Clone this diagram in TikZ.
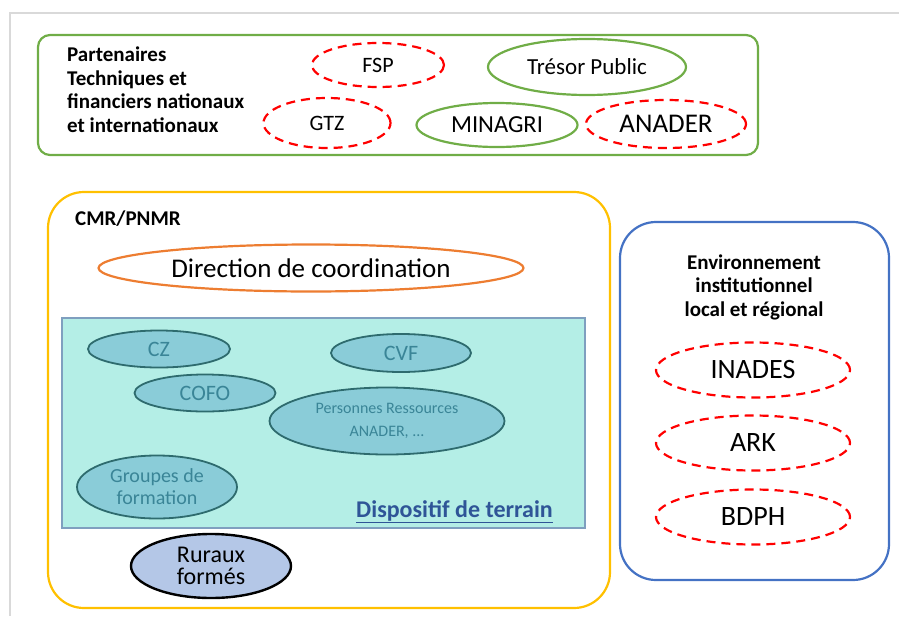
\documentclass[tikz,border=0pt]{standalone}
\usepackage{fontspec}
\setmainfont{Carlito}
\usetikzlibrary{positioning}
\usetikzlibrary{shapes.geometric}

\definecolor{partgreen}{HTML}{70AD47}
\definecolor{cmryellow}{HTML}{FFC000}
\definecolor{envblue}{HTML}{4472C4}
\definecolor{dirorange}{HTML}{ED7D31}
\definecolor{terrfill}{HTML}{B4EEE6}
\definecolor{terrdraw}{HTML}{7F9FBF}
\definecolor{tealfill}{HTML}{8ACCD8}
\definecolor{tealdraw}{HTML}{2E6B6E}
\definecolor{tealtext}{HTML}{3A8597}
\definecolor{ruraux}{HTML}{B4C7E7}
\definecolor{dispblue}{HTML}{2F5597}

\begin{document}
\begin{tikzpicture}[
    x=1pt, y=-1pt,
    frame/.style={draw, line width=2.2pt, rounded corners=#1},
    extern/.style={ellipse, draw=red, dash pattern=on 9pt off 6pt, line width=2.2pt, inner sep=0pt},
    partner/.style={ellipse, draw=partgreen, line width=2.2pt, inner sep=0pt},
    terrain/.style={ellipse, draw=tealdraw, fill=tealfill, line width=1.8pt, inner sep=0pt, text=tealtext},
    title/.style={font=\bfseries\fontsize{21}{23.5}\selectfont, align=left}
]
    \useasboundingbox (0,0) rectangle (899,616);
    \draw[gray!30, line width=1.2pt] (899,13) -- (10,13) -- (10,616);

    % Partenaires
    \draw[frame=12pt, partgreen] (38,35) rectangle (758,155);
    \node[title, anchor=north west, align=left, inner sep=0pt] (PT) at (67,47)
        {Partenaires\\Techniques et\\financiers nationaux\\et internationaux};
    \node[extern, minimum width=132pt, minimum height=44pt, font=\fontsize{22}{24}\selectfont] (FSP) at (378,65) {FSP};
    \node[partner, minimum width=198pt, minimum height=56pt, font=\fontsize{23}{25}\selectfont] (TP) at (587,67) {Trésor Public};
    \node[extern, minimum width=127pt, minimum height=50pt, font=\fontsize{22}{24}\selectfont] (GTZ) at (327,123) {GTZ};
    \node[partner, minimum width=161pt, minimum height=44pt, font=\fontsize{24.5}{26}\selectfont] (MIN) at (497,125) {MINAGRI};
    \node[extern, minimum width=160pt, minimum height=48pt, font=\fontsize{27}{29}\selectfont] (ANA) at (666,124) {ANADER};

    % CMR/PNMR
    \draw[frame=36pt, cmryellow] (48,192) rectangle (610,608);
    \node[title, anchor=west, inner sep=0pt] (CMR) at (75,219) {CMR/PNMR};
    \node[ellipse, draw=dirorange, line width=2.2pt, minimum width=425pt, minimum height=47pt, inner sep=0pt,
          font=\fontsize{27}{29}\selectfont] (DIR) at (311,268) {Direction de coordination};

    % Dispositif de terrain
    \draw[draw=terrdraw, fill=terrfill, line width=1.4pt] (62,318) rectangle (585,528);
    \node[terrain, minimum width=142pt, minimum height=37pt, font=\fontsize{22}{24}\selectfont] (CZ) at (159,349) {CZ};
    \node[terrain, minimum width=140pt, minimum height=38pt, font=\fontsize{22}{24}\selectfont] (CVF) at (401,353) {CVF};
    \node[terrain, minimum width=141pt, minimum height=37pt, font=\fontsize{22}{24}\selectfont] (COFO) at (205,393) {COFO};
    \node[terrain, minimum width=235pt, minimum height=67pt, align=center,
          font=\fontsize{16}{23}\selectfont] (PR) at (387,421) {Personnes Ressources\\ANADER, ...};
    \node[terrain, minimum width=160pt, minimum height=63pt, align=center,
          font=\fontsize{20}{22}\selectfont] (GF) at (157,487) {Groupes de\\formation};
    \node[anchor=base east, inner sep=0pt, text=dispblue, font=\bfseries\fontsize{24}{26}\selectfont] (DT) at (553,517)
        {\underline{Dispositif de terrain}};

    \node[ellipse, draw=black, fill=ruraux, line width=2.4pt, minimum width=160pt, minimum height=64pt,
          inner sep=0pt, align=center, font=\fontsize{24}{22}\selectfont] (RF) at (211,566) {Ruraux\\formés};

    % Environnement
    \draw[frame=36pt, envblue] (620,222) rectangle (889,580);
    \node[title, align=center, inner sep=0pt] (ENV) at (754,287) {Environnement\\institutionnel\\local et régional};
    \node[extern, minimum width=194pt, minimum height=55pt, font=\fontsize{28}{30}\selectfont] (IN) at (753,370) {INADES};
    \node[extern, minimum width=194pt, minimum height=55pt, font=\fontsize{28}{30}\selectfont] (ARK) at (753,443) {ARK};
    \node[extern, minimum width=194pt, minimum height=55pt, font=\fontsize{28}{30}\selectfont] (BD) at (753,517) {BDPH};
\end{tikzpicture}
\end{document}
